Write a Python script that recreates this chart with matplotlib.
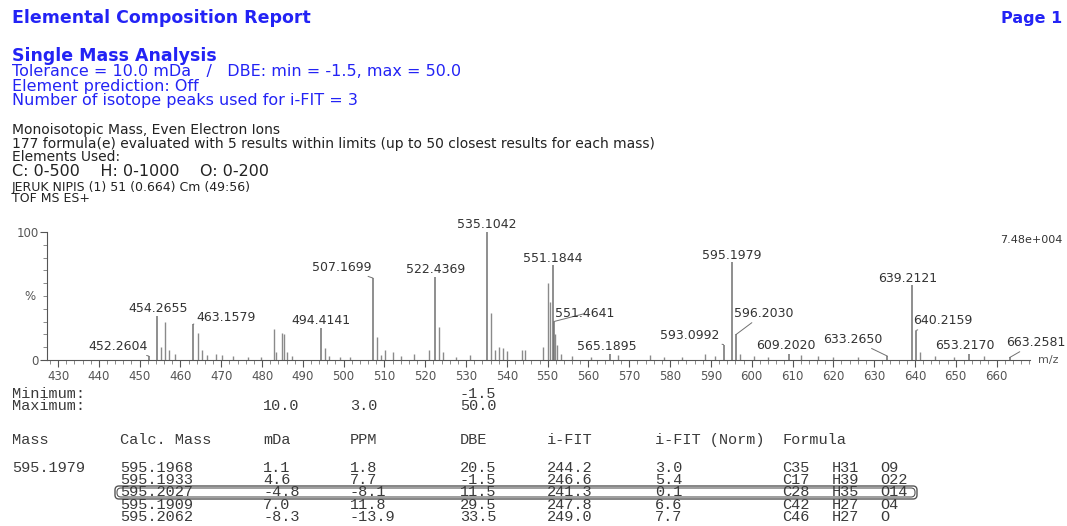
import matplotlib
matplotlib.use("Agg")
import matplotlib.pyplot as plt
from matplotlib.patches import FancyBboxPatch
from matplotlib.ticker import MultipleLocator

W, H = 1067, 526

# labelled peaks of the spectrum (m/z, % intensity)
label_mz = [452.2604, 454.2655, 463.1579, 494.4141, 507.1699, 522.4369, 535.1042,
            551.1844, 551.4641, 565.1895, 593.0992, 595.1979, 596.2030, 609.2020,
            633.2650, 639.2121, 640.2159, 653.2170, 663.2581]
label_int = [3, 34, 28, 25, 64, 65, 100, 74, 30, 5, 12, 76.5, 20, 5, 3, 58.6, 23, 5, 2]

# unlabelled peaks
other_mz = [455.3, 456.3, 457.3, 458.6, 464.2, 465.2, 466.4, 468.6, 470.2, 473.0,
            476.5, 479.8, 482.9, 483.5, 484.8, 485.4, 486.0, 487.3, 495.4, 496.4,
            499.0, 501.5, 508.2, 509.1, 510.2, 512.1, 514.0, 517.2, 520.8, 523.4,
            524.4, 527.5, 531.0, 536.1, 537.1, 538.1, 539.0, 540.1, 543.8, 544.5,
            548.9, 550.2, 550.6, 551.8, 552.2, 553.2, 556.0, 560.5, 567.2, 575.0,
            578.6, 583.0, 588.6, 591.0, 597.2, 600.5, 604.0, 612.1, 616.3, 620.0,
            626.0, 641.2, 645.0, 649.5, 657.0]
other_int = [10, 30, 8, 5, 21, 8, 4, 5, 4, 3,
             2, 2, 24, 6, 21, 20, 6, 3, 9, 3,
             2, 2, 18, 4, 8, 6, 3, 5, 8, 26,
             6, 2, 4, 37, 8, 10, 9, 7, 8, 8,
             10, 60, 45, 20, 12, 5, 3, 2, 4, 4,
             2, 2, 5, 3, 5, 3, 2, 4, 3, 2,
             2, 6, 3, 2, 3]

# label placement (pixels, relative to the peak top) and leader lines
label_dx = [-31, 1, 33, 0, -31, 0, 0, 0, 31, -3, -34, 0, 28, -3, -35, -4, 27, -4, 26]
label_dy = [10, 8, 7, 8, 11, 7, 7, 7, 8, 7, 9, 7, 21, 8, 17, 6, 10, 8, 15]
leader = [True, False, True, False, True, False, False, False, True, False,
          True, False, True, False, True, False, True, False, True]

# results table
calc_mass = ["595.1968", "595.1933", "595.2027", "595.1909", "595.2062"]
mda = ["1.1", "4.6", "-4.8", "7.0", "-8.3"]
ppm = ["1.8", "7.7", "-8.1", "11.8", "-13.9"]
dbe = ["20.5", "-1.5", "11.5", "29.5", "33.5"]
ifit = ["244.2", "246.6", "241.3", "247.8", "249.0"]
ifit_norm = ["3.0", "5.4", "0.1", "6.6", "7.7"]
form_c = ["C35", "C17", "C28", "C42", "C46"]
form_h = ["H31", "H39", "H35", "H27", "H27"]
form_o = ["O9", "O22", "O14", "O4", "O"]

BLUE = "#2323f5"
SANS = "DejaVu Sans"
MONO = "Liberation Mono"

fig = plt.figure(figsize=(W / 100, H / 100), dpi=100)

# overlay in pixel coordinates for the report text
page = fig.add_axes([0, 0, 1, 1])
page.set_xlim(0, W)
page.set_ylim(H, 0)
page.axis("off")

def t(x, y, s, size=9, color="#222222", weight="normal", family=SANS, ha="left"):
    page.text(x, y, s, fontsize=size, color=color, fontweight=weight,
              family=family, ha=ha, va="center")

t(12, 18, "Elemental Composition Report", 12.5, BLUE, "bold")
t(1062, 18, "Page 1", 11.5, BLUE, "bold", ha="right")
t(12, 56, "Single Mass Analysis", 12.5, BLUE, "bold")
t(12, 71, "Tolerance = 10.0 mDa   /   DBE: min = -1.5, max = 50.0", 11.5, BLUE)
t(12, 86, "Element prediction: Off", 11.5, BLUE)
t(12, 101, "Number of isotope peaks used for i-FIT = 3", 11.5, BLUE)

t(12, 130, "Monoisotopic Mass, Even Electron Ions", 10)
t(12, 144, "177 formula(e) evaluated with 5 results within limits (up to 50 closest results for each mass)", 10)
t(12, 157, "Elements Used:", 10)
t(12, 172, "C: 0-500    H: 0-1000    O: 0-200", 11.5)
t(12, 187, "JERUK NIPIS (1) 51 (0.664) Cm (49:56)", 9)
t(12, 199, "TOF MS ES+", 9)
t(1062, 240, "7.48e+004", 8, "#333333", ha="right")

# table
tc = "#3a3a3a"
ts = 11
t(12, 394, "Minimum:", ts, tc, family=MONO)
t(12, 406, "Maximum:", ts, tc, family=MONO)
t(263, 406, "10.0", ts, tc, family=MONO)
t(350, 406, "3.0", ts, tc, family=MONO)
t(460, 394, "-1.5", ts, tc, family=MONO)
t(460, 406, "50.0", ts, tc, family=MONO)

cols = [(12, "Mass"), (120, "Calc. Mass"), (263, "mDa"), (350, "PPM"), (460, "DBE"),
        (547, "i-FIT"), (655, "i-FIT (Norm)"), (782, "Formula")]
for x, s in cols:
    t(x, 440, s, ts, tc, family=MONO)

t(12, 468, "595.1979", ts, tc, family=MONO)
for i in range(len(calc_mass)):
    y = 468 + 12.2 * i
    for x, s in [(120, calc_mass[i]), (263, mda[i]), (350, ppm[i]), (460, dbe[i]),
                 (547, ifit[i]), (655, ifit_norm[i]), (782, form_c[i]),
                 (832, form_h[i]), (880, form_o[i])]:
        t(x, y, s, ts, tc, family=MONO)

for pad, lw in [(0, 1.0), (2, 0.8)]:
    page.add_patch(FancyBboxPatch((115 + pad, 486 + pad), 802 - 2 * pad, 13 - 2 * pad,
                                  boxstyle="round,pad=0,rounding_size=4",
                                  fill=False, ec="#555555", lw=lw))

# spectrum
x0, x1 = 47, 1030
y0, y1 = 360, 232
ax = fig.add_axes([x0 / W, 1 - y0 / H, (x1 - x0) / W, (y0 - y1) / H])
ax.set_xlim(427.3, 668.2)
ax.set_ylim(0, 100)
ax.patch.set_alpha(0)
for side in ["top", "right"]:
    ax.spines[side].set_visible(False)
ax.spines["left"].set_color("#555555")
ax.spines["bottom"].set_color("#555555")
ax.spines["left"].set_linewidth(0.8)
ax.spines["bottom"].set_linewidth(0.8)

ax.vlines(other_mz, 0, other_int, color="#8a8a8a", lw=1.0)
ax.vlines(label_mz, 0, label_int, color="#707070", lw=1.1)

ax.xaxis.set_major_locator(MultipleLocator(10))
ax.xaxis.set_minor_locator(MultipleLocator(2))
ax.set_yticks([0, 100])
ax.yaxis.set_minor_locator(MultipleLocator(10))
ax.tick_params(axis="x", which="major", length=5, width=0.8, color="#555555",
               labelsize=8.5, labelcolor="#555555", pad=2)
ax.tick_params(axis="x", which="minor", length=3, width=0.6, color="#777777")
ax.tick_params(axis="y", which="major", length=5, width=0.8, color="#555555",
               labelsize=8.5, labelcolor="#555555", pad=1)
ax.tick_params(axis="y", which="minor", length=3, width=0.6, color="#777777")
for lab in ax.get_xticklabels() + ax.get_yticklabels():
    lab.set_family(SANS)

ax.text(-0.012, 0.5, "%", transform=ax.transAxes, ha="right", va="center",
        fontsize=8.5, color="#555555", family=SANS)
ax.text(1.008, 0.0, "m/z", transform=ax.transAxes, ha="left", va="center",
        fontsize=8, color="#555555", family=SANS)

for i, mz in enumerate(label_mz):
    kw = {}
    if leader[i]:
        kw["arrowprops"] = dict(arrowstyle="-", color="#707070", lw=0.7,
                                shrinkA=0, shrinkB=0)
    ax.annotate(f"{mz:.4f}", xy=(mz, label_int[i]),
                xytext=(label_dx[i], label_dy[i]), textcoords="offset pixels",
                ha="center", va="center", fontsize=9, color="#333333",
                family=SANS, annotation_clip=False, **kw)

fig.savefig("out.png", dpi=100, facecolor="white")
